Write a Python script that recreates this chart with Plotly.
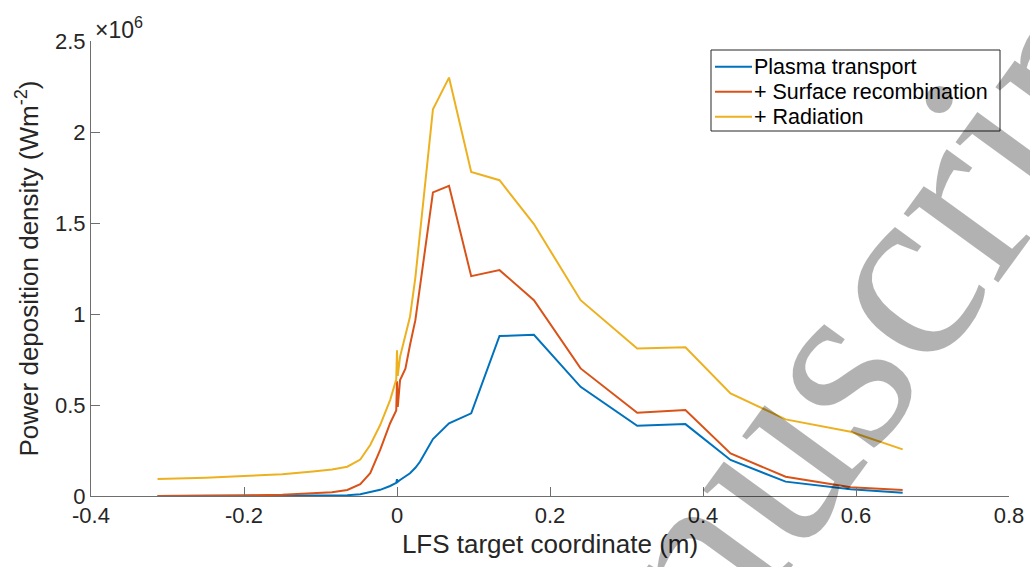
import plotly.graph_objs as go

# LFS target coordinate (m), shared by all three profiles
x_coord = [-0.313, -0.25, -0.2, -0.15, -0.11, -0.085, -0.065, -0.048, -0.035, -0.022,
           -0.009, -0.001, 0.0, 0.001, 0.004, 0.011, 0.017, 0.024, 0.030, 0.047,
           0.068, 0.097, 0.134, 0.179, 0.240, 0.314, 0.377, 0.436, 0.508, 0.593, 0.661]

# power deposition density, units of 1e6 W m^-2
plasma_transport = [0.0, 0.0, 0.0, 0.001, 0.002, 0.003, 0.004, 0.010, 0.020, 0.034,
                    0.055, 0.072, 0.092, 0.078, 0.088, 0.106, 0.125, 0.155, 0.188, 0.313,
                    0.399, 0.454, 0.879, 0.886, 0.600, 0.386, 0.395, 0.198, 0.079, 0.037, 0.018]
surface_recomb = [0.0, 0.001, 0.003, 0.007, 0.013, 0.020, 0.033, 0.065, 0.125, 0.253,
                  0.40, 0.47, 0.63, 0.49, 0.637, 0.70, 0.83, 0.966, 1.149, 1.668,
                  1.704, 1.208, 1.241, 1.076, 0.701, 0.457, 0.472, 0.234, 0.106, 0.048, 0.033]
radiation = [0.093, 0.10, 0.11, 0.12, 0.135, 0.146, 0.161, 0.200, 0.280, 0.39,
             0.527, 0.64, 0.80, 0.66, 0.765, 0.875, 0.985, 1.20, 1.443, 2.125,
             2.299, 1.781, 1.735, 1.494, 1.076, 0.811, 0.817, 0.564, 0.421, 0.353, 0.256]

series_names = ['Plasma transport', '+ Surface recombination', '+ Radiation']
series_colors = ['#0072BD', '#D95319', '#EDB120']

x_ticks = [-0.4, -0.2, 0, 0.2, 0.4, 0.6, 0.8]
x_ticktext = ['-0.4', '-0.2', '0', '0.2', '0.4', '0.6', '0.8']
y_ticks = [0, 0.5, 1, 1.5, 2, 2.5]
y_ticktext = ['0', '0.5', '1', '1.5', '2', '2.5']

FONT = 'Liberation Sans, Arial, sans-serif'
AXCOL = '#6e6e6e'
TXTCOL = '#262626'

# plot area in page pixels
L, R, T, B = 91, 1009, 41, 496


def px2x(px):
    return (px - L) / (R - L)


def py2y(py):
    return (B - py) / (B - T)


fig = go.Figure()
for name, ys, col in zip(series_names, [plasma_transport, surface_recomb, radiation], series_colors):
    fig.add_trace(go.Scatter(x=x_coord, y=ys, mode='lines', name=name,
                             line=dict(color=col, width=2)))

axis_common = dict(showline=True, linecolor=AXCOL, linewidth=1, mirror=False,
                   showgrid=False, zeroline=False, ticks='inside', ticklen=9,
                   tickcolor=AXCOL, tickwidth=1, automargin=False,
                   tickfont=dict(family=FONT, size=22, color=TXTCOL))

fig.update_layout(
    width=1030, height=567,
    margin=dict(l=L, r=1030 - R, t=T, b=567 - B),
    plot_bgcolor='white', paper_bgcolor='white',
    font=dict(family=FONT, color=TXTCOL),
    xaxis=dict(range=[-0.4, 0.8], tickvals=x_ticks, ticktext=x_ticktext,
               title=dict(text='LFS target coordinate (m)', font=dict(size=26), standoff=7),
               **axis_common),
    yaxis=dict(range=[0, 2.5], tickvals=y_ticks, ticktext=y_ticktext,
               title=dict(text='Power deposition density (Wm<sup>-2</sup>)', font=dict(size=26), standoff=8),
               **axis_common),
    showlegend=False,
)

# exponent label above the y axis
fig.add_annotation(xref='paper', yref='paper', x=px2x(93), y=py2y(45), xanchor='left', yanchor='bottom',
                   text='\u00d710<sup>6</sup>', showarrow=False,
                   font=dict(family=FONT, size=23, color=TXTCOL))

# legend box drawn by hand (MATLAB style)
fig.add_shape(type='rect', xref='paper', yref='paper',
              x0=px2x(711), x1=px2x(1000), y0=py2y(131), y1=py2y(50),
              line=dict(color=TXTCOL, width=1), fillcolor='white')
row_y = [66.7, 91.7, 116.7]
for name, col, ry in zip(series_names, series_colors, row_y):
    fig.add_shape(type='line', xref='paper', yref='paper',
                  x0=px2x(715), x1=px2x(752), y0=py2y(ry), y1=py2y(ry),
                  line=dict(color=col, width=2))
    fig.add_annotation(xref='paper', yref='paper', x=px2x(752), y=py2y(ry),
                       xanchor='left', yanchor='middle', text=name, showarrow=False,
                       font=dict(family=FONT, size=21.5, color='black'))

# watermark
fig.add_annotation(xref='paper', yref='paper', x=px2x(792), y=py2y(420),
                   text='Manuscript', showarrow=False, textangle=-54,
                   xanchor='center', yanchor='middle',
                   font=dict(family='Liberation Serif, Times New Roman, serif', size=255,
                             color='rgba(0,0,0,0.3)'))

fig.write_html("out.html", config={'displayModeBar': False},
               post_script="document.body.style.margin='0';")
